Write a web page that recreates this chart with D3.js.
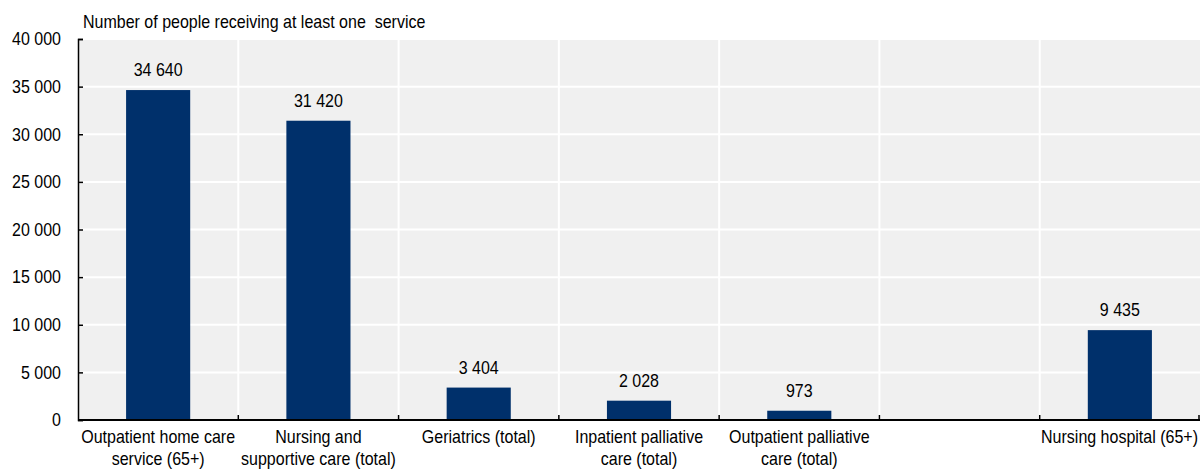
<!DOCTYPE html>
<html>
<head>
<meta charset="utf-8">
<script src="https://cdn.jsdelivr.net/npm/d3@7"></script>
<style>
  body { margin: 0; background: #fff; }
  svg text { font-family: "Liberation Sans", Arial, sans-serif; fill: #000; white-space: pre; }
</style>
</head>
<body>
<svg id="chart" width="1201" height="469"></svg>
<script>
// Service categories (one blank slot before the last category)
const categories = [
  "Outpatient home care|service (65+)",
  "Nursing and|supportive care (total)",
  "Geriatrics (total)",
  "Inpatient palliative|care (total)",
  "Outpatient palliative|care (total)",
  "",
  "Nursing hospital (65+)"
];
const values = [34640, 31420, 3404, 2028, 973, null, 9435];
const yTicks = [0, 5000, 10000, 15000, 20000, 25000, 30000, 35000, 40000];
const yTitle = "Number of people receiving at least one  service";

const svg = d3.select("#chart");
const margin = { left: 78, right: 1, top: 39, bottom: 49 };
const W = 1201, H = 469;
const x0 = margin.left, x1 = W - margin.right;
const y0 = H - margin.bottom, y1 = margin.top;

const x = d3.scaleBand().domain(d3.range(categories.length)).range([x0, x1]).paddingInner(0).paddingOuter(0);
const y = d3.scaleLinear().domain([0, 40000]).range([y0, y1]);

const fmt = v => d3.format(",")(v).replace(/,/g, " ");
const fontSize = 18;
const squeeze = 0.89; // horizontal compression for a condensed look

// place a text at (px, py) and compress it horizontally
function putText(sel, px, py) {
  sel.attr("x", 0).attr("y", 0)
     .attr("transform", (d, i, n) => `translate(${typeof px === "function" ? px(d, i, n) : px},${typeof py === "function" ? py(d, i, n) : py}) scale(${squeeze},1)`);
  return sel;
}

// plot background
svg.append("rect").attr("x", x0).attr("y", y1).attr("width", x1 - x0).attr("height", y0 - y1).attr("fill", "#f0f0f0");

// horizontal gridlines
svg.append("g").selectAll("line").data(yTicks.slice(1)).join("line")
  .attr("x1", x0).attr("x2", x1)
  .attr("y1", d => y(d)).attr("y2", d => y(d))
  .attr("stroke", "#fff").attr("stroke-width", 2);

// vertical gridlines at category boundaries
const bounds = d3.range(1, categories.length).map(i => x(i));
svg.append("g").selectAll("line").data(bounds).join("line")
  .attr("x1", d => d).attr("x2", d => d)
  .attr("y1", y1).attr("y2", y0)
  .attr("stroke", "#fff").attr("stroke-width", 2);

// bars
const barW = x.bandwidth() * 0.4;
const data = values.map((v, i) => ({ v, i })).filter(d => d.v != null);
svg.append("g").selectAll("rect").data(data).join("rect")
  .attr("x", d => x(d.i) + (x.bandwidth() - barW) / 2)
  .attr("width", barW)
  .attr("y", d => y(d.v))
  .attr("height", d => y(0) - y(d.v))
  .attr("fill", "#00306b");

// value labels
putText(svg.append("g").selectAll("text").data(data).join("text"),
    d => x(d.i) + x.bandwidth() / 2, d => y(d.v) - 14)
  .attr("text-anchor", "middle")
  .attr("font-size", fontSize)
  .text(d => fmt(d.v));

// y axis
const yAxis = d3.axisLeft(y).tickValues(yTicks).tickSize(-5).tickPadding(17).tickFormat(fmt);
const gy = svg.append("g").attr("transform", `translate(${x0},0)`).call(yAxis);
gy.select(".domain").attr("stroke", "#000").attr("stroke-width", 1.5);
gy.selectAll(".tick line").attr("stroke", "#000").attr("stroke-width", 1.5);
gy.selectAll(".tick text")
  .attr("font-size", fontSize).attr("font-family", null)
  .attr("x", -17 / squeeze)
  .attr("transform", `scale(${squeeze},1)`);

// x axis baseline with ticks at category boundaries
const gx = svg.append("g");
gx.append("line").attr("x1", x0).attr("x2", x1).attr("y1", y0).attr("y2", y0)
  .attr("stroke", "#000").attr("stroke-width", 2);
gx.selectAll("line.tk").data(bounds.concat([x1 - 1])).join("line").attr("class", "tk")
  .attr("x1", d => d).attr("x2", d => d).attr("y1", y0).attr("y2", y0 - 5)
  .attr("stroke", "#000").attr("stroke-width", 1.5);

// category labels (two lines where split by "|")
const labels = putText(svg.append("g").selectAll("text").data(categories.map((c, i) => ({ c, i }))).join("text"),
    d => x(d.i) + x.bandwidth() / 2, y0 + 23)
  .attr("text-anchor", "middle")
  .attr("font-size", fontSize);
labels.each(function(d) {
  const lines = d.c.split("|");
  d3.select(this).selectAll("tspan").data(lines).join("tspan")
    .attr("x", 0)
    .attr("dy", (l, j) => j === 0 ? 0 : 22)
    .text(l => l);
});
// keep the last label inside the right edge
labels.filter(d => d.i === categories.length - 1)
  .attr("text-anchor", "end")
  .attr("transform", `translate(${x1 - 2},${y0 + 23}) scale(${squeeze},1)`);

// axis title
putText(svg.append("text"), 83, 28).attr("font-size", fontSize).text(yTitle);
</script>
</body>
</html>
